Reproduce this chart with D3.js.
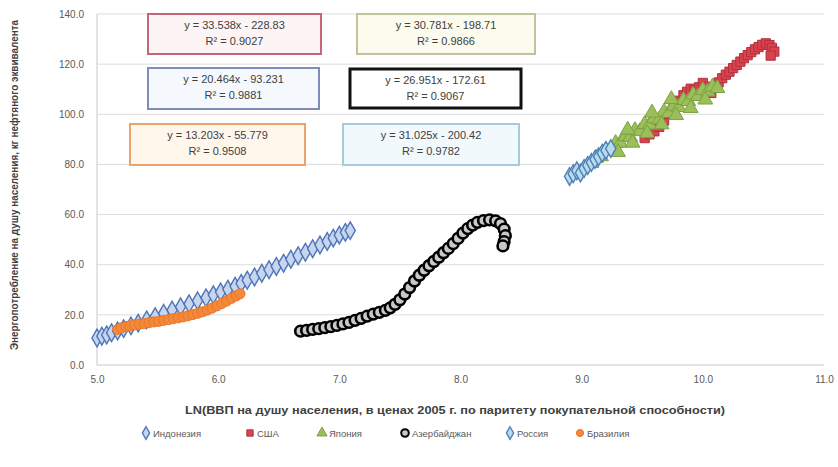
<!DOCTYPE html>
<html><head><meta charset="utf-8">
<script src="https://cdn.jsdelivr.net/npm/d3@7"></script>
<style>body{margin:0;background:#fff}svg{display:block;font-family:"Liberation Sans",Arial,sans-serif}</style>
</head><body><div id="chart"></div>
<script>
// ---- data ----
const seriesNames = ["Индонезия", "США", "Япония", "Азербайджан", "Россия", "Бразилия"];
const xTicks = [5, 6, 7, 8, 9, 10, 11];
const yTicks = [0, 20, 40, 60, 80, 100, 120, 140];
const xTitle = "LN(ВВП на душу населения, в ценах 2005 г. по паритету покупательной способности)";
const yTitle = "Энергопотребление на душу населения, кг нефтяного эквивалента";

const s1 = [[5.00,10.8],[5.04,11.5],[5.08,12.0],[5.12,12.9],[5.17,13.6],[5.22,14.5],[5.28,15.6],[5.34,16.7],[5.41,18.0],[5.48,19.3],[5.55,20.6],[5.62,21.9],[5.69,23.2],[5.76,24.4],[5.83,25.6],[5.90,26.8],[5.96,28.0],[6.02,29.1],[6.08,30.2],[6.14,31.4],[6.19,32.5],[6.24,33.8],[6.30,35.1],[6.36,36.6],[6.42,38.0],[6.48,39.3],[6.54,40.6],[6.60,42.2],[6.66,43.6],[6.72,45.0],[6.78,46.4],[6.84,47.9],[6.90,49.3],[6.95,50.6],[7.00,51.8],[7.05,52.9],[7.09,53.6]];
const s2 = [[9.52,90.5],[9.56,92.0],[9.60,93.2],[9.64,95.0],[9.68,97.5],[9.72,100.2],[9.76,103.0],[9.80,105.4],[9.84,107.6],[9.87,109.0],[9.90,110.2],[9.93,109.5],[9.95,108.3],[9.97,110.8],[10.00,112.5],[10.03,111.0],[10.05,109.4],[10.07,108.5],[10.10,110.6],[10.13,112.7],[10.16,114.4],[10.19,115.8],[10.22,117.0],[10.25,118.4],[10.28,119.7],[10.31,121.0],[10.34,122.4],[10.37,123.6],[10.40,124.8],[10.43,125.9],[10.46,126.8],[10.49,127.7],[10.52,128.3],[10.55,127.6],[10.57,126.5],[10.59,125.0],[10.56,123.4]];
const s3 = [[9.08,80.5],[9.12,82.6],[9.16,83.2],[9.20,85.8],[9.24,86.0],[9.28,88.5],[9.32,88.6],[9.36,91.2],[9.40,90.9],[9.44,93.6],[9.48,93.2],[9.52,96.0],[9.56,95.8],[9.60,98.4],[9.64,97.9],[9.68,101.0],[9.72,100.5],[9.76,103.3],[9.80,102.8],[9.84,105.6],[9.88,105.2],[9.92,107.8],[9.96,107.2],[10.00,109.6],[10.04,109.0],[10.08,111.0],[10.12,110.4],[9.30,84.9],[9.42,88.6],[9.54,92.4],[9.66,95.9],[9.78,99.6],[9.90,102.4],[10.02,105.8],[9.38,93.8],[9.58,100.6],[9.74,106.0]];
const s4 = [[6.68,13.5],[6.73,13.8],[6.78,14.2],[6.83,14.5],[6.88,14.9],[6.93,15.3],[6.98,15.8],[7.03,16.4],[7.08,17.0],[7.13,17.8],[7.18,18.6],[7.23,19.5],[7.28,20.3],[7.33,21.0],[7.38,21.8],[7.42,22.8],[7.46,24.2],[7.50,26.0],[7.54,28.3],[7.58,30.9],[7.62,33.5],[7.66,35.8],[7.70,37.8],[7.74,39.6],[7.78,41.3],[7.82,43.0],[7.86,44.8],[7.90,46.5],[7.94,48.4],[7.98,50.5],[8.02,52.6],[8.06,54.4],[8.10,55.8],[8.14,56.9],[8.19,57.6],[8.24,57.9],[8.29,57.5],[8.33,56.4],[8.36,54.2],[8.37,51.6],[8.36,49.2],[8.35,47.5]];
const s5 = [[8.90,75.2],[8.93,76.3],[8.96,77.5],[8.99,76.6],[9.02,78.4],[9.05,79.6],[9.08,80.8],[9.11,82.0],[9.14,83.1],[9.17,84.5],[9.20,85.6],[9.24,86.3]];
const s6 = [[5.17,14.2],[5.20,14.8],[5.24,15.3],[5.27,15.6],[5.31,16.0],[5.35,16.3],[5.39,16.5],[5.43,16.9],[5.47,17.2],[5.51,17.4],[5.55,17.8],[5.59,18.1],[5.63,18.5],[5.67,18.8],[5.71,19.2],[5.75,19.6],[5.79,20.1],[5.83,20.6],[5.87,21.2],[5.91,21.9],[5.95,22.7],[5.99,23.6],[6.03,24.5],[6.07,25.5],[6.11,26.6],[6.15,27.6],[6.18,28.4]];
const equations = ["y = 20.464x - 93.231", "y = 33.538x - 228.83", "y = 30.781x - 198.71", "y = 26.951x - 172.61", "y = 31.025x - 200.42", "y = 13.203x - 55.779"];
const rSquared = ["R² = 0.9881", "R² = 0.9027", "R² = 0.9866", "R² = 0.9067", "R² = 0.9782", "R² = 0.9508"];

// ---- styles ----
const seriesData = [s1, s2, s3, s4, s5, s6];
const styles = [
  {sym: d3.symbolDiamond, size: 90, fill: "#c5d6ee", stroke: "#4f74b8", sw: 1.4},
  {sym: d3.symbolSquare,  size: 85, fill: "#d9434f", stroke: "#b0303c", sw: 1},
  {sym: d3.symbolTriangle, size: 95, fill: "#9bc05a", stroke: "#7fa043", sw: 1},
  {sym: d3.symbolCircle,  size: 90, fill: "#c8c8c8", stroke: "#000", sw: 2.6},
  {sym: d3.symbolDiamond, size: 90, fill: "#b8dcec", stroke: "#4f80b8", sw: 1.4},
  {sym: d3.symbolCircle,  size: 80, fill: "#f4893a", stroke: "#e8762a", sw: 1}
];
const legendSizes = [45, 40, 45, 45, 45, 40];
// equation boxes [series index, x, y, w, h, border, fill, stroke width]
const boxes = [
  [1, 148, 14, 173, 40, "#c06878", "#fdf4f5", 2],
  [2, 357, 14, 178, 40, "#c4c29c", "#fbfbee", 2],
  [0, 148, 68, 171, 41, "#7d8cb8", "#f5f8fd", 2],
  [3, 350, 69, 171, 39, "#111", "#ffffff", 3],
  [5, 130, 124, 175, 41, "#e9a46e", "#fff6ec", 2],
  [4, 343, 124, 176, 41, "#a4cadb", "#f2f9fc", 2]
];

const W = 838, H = 467;
const svg = d3.select("#chart").append("svg").attr("width", W).attr("height", H);
const x = d3.scaleLinear().domain([5, 11]).range([97, 824]);
const y = d3.scaleLinear().domain([0, 140]).range([365, 14]);

// gridlines
svg.append("g").selectAll("line").data(yTicks).join("line")
  .attr("x1", x(5)).attr("x2", x(11)).attr("y1", d => y(d)).attr("y2", d => y(d))
  .attr("stroke", d => d === 0 ? "#c8c8c8" : "#dcdcdc").attr("stroke-width", 1);
svg.append("line").attr("x1", x(5)).attr("x2", x(5)).attr("y1", y(0)).attr("y2", y(140))
  .attr("stroke", "#c8c8c8");

// axes
const yAxis = d3.axisLeft(y).tickValues(yTicks).tickFormat(d3.format(".1f")).tickSize(0).tickPadding(13);
const gy = svg.append("g").attr("transform", `translate(${x(5)},0)`).call(yAxis);
gy.select(".domain").remove();
gy.selectAll("text").attr("font-size", 10).attr("fill", "#595959");
const xAxis = d3.axisBottom(x).tickValues(xTicks).tickFormat(d3.format(".1f")).tickSize(0).tickPadding(11);
const gx = svg.append("g").attr("transform", `translate(0,${y(0)})`).call(xAxis);
gx.select(".domain").remove();
gx.selectAll("text").attr("font-size", 10).attr("fill", "#595959");

// axis titles
svg.append("text").attr("x", 455).attr("y", 414).attr("text-anchor", "middle")
  .attr("font-size", 11).attr("font-weight", "bold").attr("fill", "#404040")
  .attr("textLength", 540).attr("lengthAdjust", "spacingAndGlyphs").text(xTitle);
svg.append("text").attr("transform", "translate(18,185) rotate(-90)").attr("text-anchor", "middle")
  .attr("font-size", 10.5).attr("font-weight", "bold").attr("fill", "#404040")
  .attr("textLength", 330).attr("lengthAdjust", "spacingAndGlyphs").text(yTitle);

// points
seriesData.forEach((data, i) => {
  const st = styles[i];
  svg.append("g").selectAll("path").data(data).join("path")
    .attr("transform", d => `translate(${x(d[0])},${y(d[1])})`)
    .attr("d", d3.symbol(st.sym, st.size))
    .attr("fill", st.fill).attr("stroke", st.stroke).attr("stroke-width", st.sw);
});

// equation boxes
boxes.forEach(b => {
  const [si, bx, by, bw, bh, bc, bf, bsw] = b;
  svg.append("rect").attr("x", bx).attr("y", by).attr("width", bw).attr("height", bh)
    .attr("fill", bf).attr("stroke", bc).attr("stroke-width", bsw);
  svg.append("text").attr("x", bx + bw / 2).attr("y", by + 15).attr("text-anchor", "middle")
    .attr("font-size", 11).attr("fill", "#404040").text(equations[si]);
  svg.append("text").attr("x", bx + bw / 2).attr("y", by + 31).attr("text-anchor", "middle")
    .attr("font-size", 11).attr("fill", "#404040").text(rSquared[si]);
});

// legend
const legendX = [146, 250, 322, 405, 510, 580];
const lg = svg.append("g");
seriesNames.forEach((n, i) => {
  const st = styles[i];
  lg.append("path").attr("transform", `translate(${legendX[i]},433)`)
    .attr("d", d3.symbol(st.sym, legendSizes[i]))
    .attr("fill", st.fill).attr("stroke", st.stroke).attr("stroke-width", Math.min(st.sw, 2));
  lg.append("text").attr("x", legendX[i] + 7).attr("y", 436.5).attr("font-size", 9.5)
    .attr("fill", "#595959").text(n);
});
</script>
</body></html>
